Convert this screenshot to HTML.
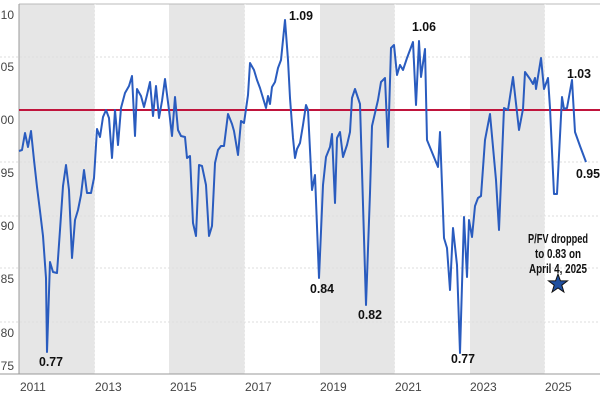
<!DOCTYPE html>
<html><head><meta charset="utf-8"><style>body{margin:0;background:#fff}svg{display:block}text{font-family:"Liberation Sans",Arial,sans-serif}</style></head><body>
<svg width="600" height="400" viewBox="0 0 600 400">
<rect x="0" y="0" width="600" height="400" fill="#fff"/>
<g fill="#e6e6e6">
<rect x="19" y="4" width="76" height="370"/>
<rect x="169" y="4" width="76" height="370"/>
<rect x="320" y="4" width="75" height="370"/>
<rect x="470" y="4" width="75" height="370"/>
</g>
<line x1="19" y1="4" x2="600" y2="4" stroke="#bbb" stroke-width="1"/>
<g stroke="#ddd" stroke-width="1" stroke-dasharray="2,2">
<line x1="0" y1="57" x2="600" y2="57"/><line x1="0" y1="162" x2="600" y2="162"/>
<line x1="0" y1="216" x2="600" y2="216"/><line x1="0" y1="268" x2="600" y2="268"/>
<line x1="0" y1="322" x2="600" y2="322"/>
</g>
<g stroke="#fff" stroke-width="1" stroke-dasharray="2,2" opacity="0.8">
<line x1="95" y1="4" x2="95" y2="374"/><line x1="245" y1="4" x2="245" y2="374"/><line x1="395" y1="4" x2="395" y2="374"/><line x1="545" y1="4" x2="545" y2="374"/>
</g>
<line x1="0" y1="374" x2="600" y2="374" stroke="#999" stroke-width="1"/>
<line x1="19" y1="4" x2="19" y2="374" stroke="#999" stroke-width="1"/>
<g font-size="12" fill="#444" text-anchor="end">
<text x="14" y="19">1.10</text><text x="14" y="71">1.05</text><text x="14" y="124">1.00</text><text x="14" y="177">0.95</text><text x="14" y="230">0.90</text><text x="14" y="283">0.85</text><text x="14" y="337">0.80</text><text x="14" y="370">0.75</text>
</g>
<line x1="19" y1="110" x2="600" y2="110" stroke="#c0143c" stroke-width="2"/>
<polyline fill="none" stroke="#2a5cbf" stroke-width="2" stroke-linejoin="round" points="19,151 22,150 25,133 28,147 31,131 34,160 37,187 40,211 43,236 46,278 47,352 50,262 53,272 57,273 60,230 63,186 66,165 69,190 72,258 75,220 78,210 81,195 84,170 87,193 91,193 94,178 97,129 100,137 103,117 106,110 109,118 112,158 115,110 118,145 121,108 125,93 129,86 132,76 135,136 137,89 141,96 144,107 147,95 150,82 153,116 156,86 159,118 162,101 165,79 169,110 172,136 175,97 178,130 181,136 185,137 187,158 190,156 193,223 196,236 199,165 202,166 206,185 209,236 212,226 215,163 218,150 221,146 224,146 228,114 232,124 234,131 238,155 241,121 244,123 248,95 250,63 254,70 257,80 260,88 263,98 266,108 268,96 270,104 272,87 275,82 278,68 281,60 285,20 288,60 290,98 293,138 295,158 297,149 300,143 303,125 306,105 308,110 312,190 315,175 319,278 323,185 326,157 330,147 332,134 335,203 337,138 340,132 343,157 347,145 350,132 352,98 355,89 360,104 366,305 370,193 372,126 378,100 381,82 385,78 388,147 391,48 394,45 397,75 400,65 403,70 407,58 413,42 416,105 419,41 421,77 425,49 427,140 438,167 440,132 444,238 447,248 450,290 453,228 457,265 460,353 464,217 467,277 469,220 472,237 475,206 478,198 481,196 485,140 490,114 496,180 499,230 504,108 508,110 513,77 519,130 523,109 525,72 530,79 533,84 535,78 536,89 541,58 544,89 548,78 550,108 554,194 557,194 562,97 564,109 567,108 572,80 575,132 580,146 586,162"/>
<g font-size="13" font-weight="bold" fill="#111" text-anchor="middle">
<text x="51" y="366" textLength="24" lengthAdjust="spacingAndGlyphs">0.77</text><text x="301" y="20" textLength="24" lengthAdjust="spacingAndGlyphs">1.09</text><text x="322" y="293" textLength="24" lengthAdjust="spacingAndGlyphs">0.84</text><text x="370" y="319" textLength="24" lengthAdjust="spacingAndGlyphs">0.82</text><text x="424" y="31" textLength="24" lengthAdjust="spacingAndGlyphs">1.06</text><text x="463" y="363" textLength="24" lengthAdjust="spacingAndGlyphs">0.77</text><text x="579" y="78" textLength="24" lengthAdjust="spacingAndGlyphs">1.03</text><text x="588" y="178" textLength="24" lengthAdjust="spacingAndGlyphs">0.95</text>
<text x="558" y="243" textLength="60" lengthAdjust="spacingAndGlyphs">P/FV dropped</text><text x="558" y="258" textLength="46" lengthAdjust="spacingAndGlyphs">to 0.83 on</text><text x="558" y="273" textLength="58" lengthAdjust="spacingAndGlyphs">April 4, 2025</text>
</g>
<polygon points="558,274 560.4,280.8 567.5,280.9 561.8,285.2 563.9,292 558,288 552.1,292 554.2,285.2 548.5,280.9 555.6,280.8" fill="#1f4fa0" stroke="#111" stroke-width="1"/>
<g font-size="12" fill="#444">
<text x="20" y="391">2011</text><text x="95" y="391">2013</text><text x="170" y="391">2015</text><text x="245" y="391">2017</text><text x="320" y="391">2019</text><text x="395" y="391">2021</text><text x="470" y="391">2023</text><text x="545" y="391">2025</text>
</g>
</svg>
</body></html>
